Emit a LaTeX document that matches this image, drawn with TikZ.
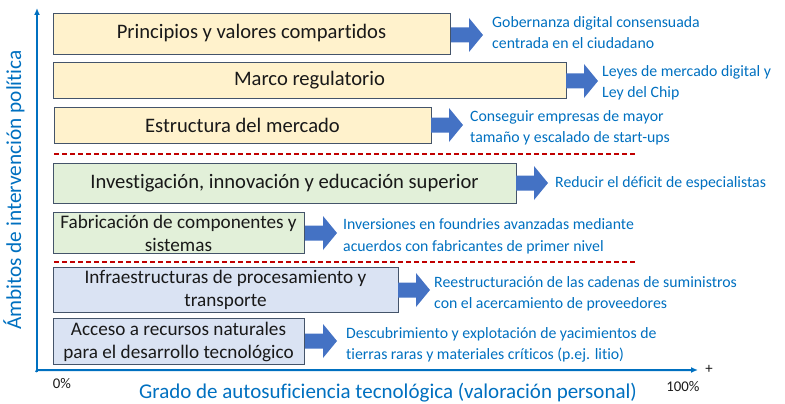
\documentclass[tikz,border=0pt]{standalone}
\usepackage{fontspec}
\setmainfont{Carlito}[Ligatures=NoCommon]
\usetikzlibrary{arrows.meta}
\definecolor{axisblue}{RGB}{0,112,192}
\definecolor{arrblue}{RGB}{68,114,196}
\definecolor{bordc}{RGB}{68,84,106}
\definecolor{yel}{RGB}{255,242,204}
\definecolor{grn}{RGB}{226,240,217}
\definecolor{blu}{RGB}{218,227,243}
\definecolor{redd}{RGB}{192,0,0}
\begin{document}
\begin{tikzpicture}[x=1pt,y=-1pt,
  boxa/.style={draw=bordc,line width=0.9pt,inner sep=0pt,font=\fontsize{20.6}{23}\selectfont,text=black!90,align=center},
  boxs/.style={boxa,font=\fontsize{19.2}{23}\selectfont},
  note/.style={anchor=west,align=left,inner sep=0pt,text=axisblue,font=\fontsize{15.8}{21.5}\selectfont},
  sep/.style={draw=redd,line width=1.1pt,dash pattern=on 5pt off 3pt},
  axis/.style={draw=axisblue,line width=2pt,-{Latex[length=7pt,width=6pt]}},
  pct/.style={font=\fontsize{14.8}{16}\selectfont,text=black!90}]
\useasboundingbox (0,0) rectangle (785,404);
\newcommand{\blockarr}[2]{\fill[arrblue] (#1,#2) ++(0,-7.5) -- ++(18,0) -- ++(0,-9.5) -- ++(14,17) -- ++(-14,17) -- ++(0,-9.5) -- ++(-18,0) -- cycle;}
% boxes
\path[boxa,fill=yel] (53,13) rectangle (450,54);
\node[boxa,draw=none] (b1) at (251.5,33.5) {Principios y valores compartidos};
\path[boxa,fill=yel] (53,62) rectangle (566,98);
\node[boxa,draw=none] (b2) at (309.5,80) {Marco regulatorio};
\path[boxa,fill=yel] (54,107) rectangle (431,143);
\node[boxa,draw=none] (b3) at (242.5,125) {Estructura del mercado};
\path[boxa,fill=grn] (53,163) rectangle (516,203);
\node[boxa,draw=none] (b4) at (284.5,183) {Investigación, innovación y educación superior};
\path[boxs,fill=grn] (53,212) rectangle (304,253);
\node[boxs,draw=none] (b5) at (178.5,233) {Fabricación de componentes y\\sistemas};
\path[boxs,fill=blu] (53,267) rectangle (398,312);
\node[boxs,draw=none] (b6) at (225.5,290) {Infraestructuras de procesamiento y\\transporte};
\path[boxs,fill=blu] (53,318) rectangle (304,364);
\node[boxs,draw=none] (b7) at (178.5,341.5) {Acceso a recursos naturales\\para el desarrollo tecnológico};
% separators
\draw[sep] (54,154) -- (637,154);
\draw[sep] (54,262) -- (637,262);
% arrows
\blockarr{451}{35}
\blockarr{566}{81}
\blockarr{431}{125}
\blockarr{516}{183}
\blockarr{305}{233}
\blockarr{398}{290}
\blockarr{305}{341}
% notes
\node[note] (n1) at (492,32.5) {Gobernanza digital consensuada\\centrada en el ciudadano};
\node[note] (n2) at (602,83) {Leyes de mercado digital y\\Ley del Chip};
\node[note] (n3) at (470,128) {Conseguir empresas de mayor\\tamaño y escalado de start-ups};
\node[note] (n4) at (555,183) {Reducir el déficit de especialistas};
\node[note] (n5) at (343,236.5) {Inversiones en foundries avanzadas mediante\\acuerdos con fabricantes de primer nivel};
\node[note] (n6) at (434,294) {Reestructuración de las cadenas de suministros\\con el acercamiento de proveedores};
\node[note] (n7) at (346,345) {Descubrimiento y explotación de yacimientos de\\tierras raras y materiales críticos (p.ej. litio)};
% axes
\coordinate (o) at (37,372);
\coordinate (ytop) at (37,8);
\coordinate (xend) at (698,370);
\draw[axis] (o) -- (ytop);
\draw[axis] ([xshift=-1pt]o) -- (37,370) -- (xend);
\node[pct] (plus) at (709,369) {+};
\node[pct] (p100) at (683,387) {100\%};
\node[pct] (p0) at (62,384) {0\%};
\node[text=axisblue,font=\fontsize{21}{23}\selectfont] (xl) at (388,393) {Grado de autosuficiencia tecnológica (valoración personal)};
\node[text=axisblue,font=\fontsize{21.3}{23}\selectfont,rotate=90] (yl) at (14,190) {Ámbitos de intervención política};
\end{tikzpicture}
\end{document}
